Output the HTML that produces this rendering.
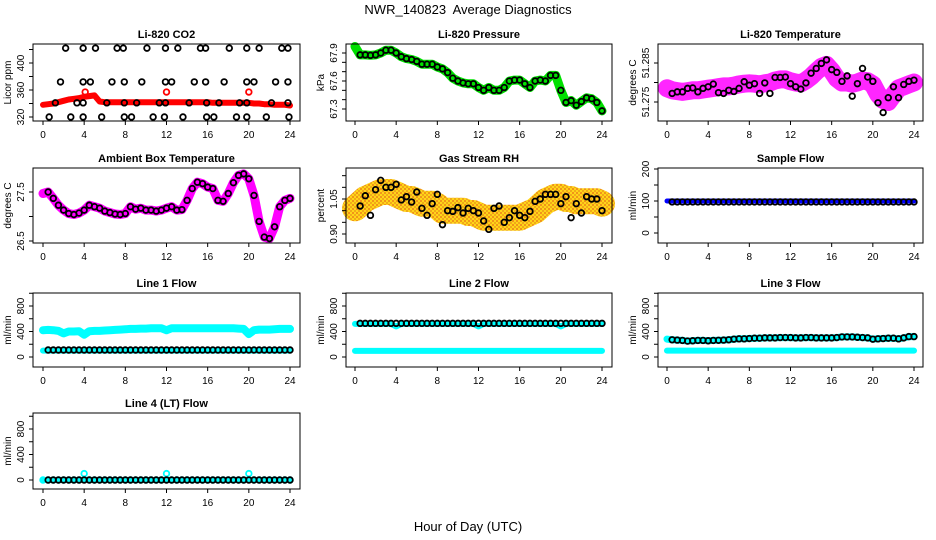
<!DOCTYPE html>
<html><head><meta charset="utf-8"><style>
html,body{margin:0;padding:0;background:#fff;}
svg{display:block;font-family:"Liberation Sans",sans-serif;}
</style></head><body>
<svg id="chart" width="936" height="540" viewBox="0 0 936 540" xmlns="http://www.w3.org/2000/svg">
<defs>
<pattern id="rhpat" width="4" height="4" patternUnits="userSpaceOnUse">
<rect width="4" height="4" fill="#ffd000"/><rect width="2" height="2" fill="#f08a00"/><rect x="2" y="2" width="2" height="2" fill="#f0a000"/>
</pattern>
</defs>
<text x="468" y="14" text-anchor="middle" font-size="13">NWR_140823&#160; Average Diagnostics</text>
<text x="468" y="531" text-anchor="middle" font-size="13">Hour of Day (UTC)</text>
</svg>
<script>
const hours = [0,0.5,1,1.5,2,2.5,3,3.5,4,4.5,5,5.5,6,6.5,7,7.5,8,8.5,9,9.5,10,10.5,11,11.5,12,12.5,13,13.5,14,14.5,15,15.5,16,16.5,17,17.5,18,18.5,19,19.5,20,20.5,21,21.5,22,22.5,23,23.5,24];
const xTicks = [0,4,8,12,16,20,24];

const co2Red = [338,339,340,342,344,346,347,348,350,351,352,343,342,342,342,342,342,342,342,342,342,342,342,342,342,342,342,342,342,342,342,342,342,341,341,341,341,341,341,341,341,340,340,339,339,338,338,338,337];
const co2BlackHours = [2.2,3.9,5.1,7.2,7.8,10.1,11.9,13.1,15.3,15.8,18.1,19.8,21.0,23.2,23.8, 1.7,3.9,4.6,6.7,7.9,9.6,11.9,12.5,14.7,15.8,17.6,19.8,20.5,22.6,23.8, 1.2,3.3,3.9,6.2,7.9,9.1,11.3,11.9,14.2,15.9,17.1,19.1,19.8,22.2,23.8, 0.6,2.7,3.9,5.7,7.9,8.6,10.7,11.8,13.6,15.9,16.6,18.8,19.8,21.7,23.9];
const co2BlackVals = [422,422,422,422,422,422,422,422,422,422,422,422,422,422,422, 372,372,372,372,372,372,372,372,372,372,372,372,372,372,372, 341,341,341,341,341,341,341,341,341,341,341,341,341,341,341, 320,320,320,320,320,320,320,320,320,320,320,320,320,320,320];
const co2RedHours = [4.1,12,20];
const co2RedVals = [357,357,357];

const pressure = [67.97,67.88,67.88,67.875,67.88,67.9,67.93,67.93,67.9,67.86,67.84,67.83,67.81,67.78,67.78,67.78,67.75,67.73,67.69,67.63,67.6,67.58,67.57,67.57,67.53,67.5,67.53,67.5,67.5,67.53,67.6,67.61,67.61,67.57,67.53,67.6,67.61,67.6,67.66,67.66,67.5,67.37,67.39,67.34,67.38,67.42,67.41,67.37,67.28];

const tempBlack = [51.2789,51.2772,51.2776,51.2776,51.2785,51.2786,51.2776,51.2785,51.2789,51.2796,51.2774,51.2772,51.278,51.2777,51.2785,51.2802,51.2793,51.2797,51.2772,51.2799,51.2772,51.2813,51.2813,51.2814,51.2797,51.2789,51.2783,51.2799,51.2824,51.2836,51.2849,51.2858,51.2833,51.2826,51.2803,51.2817,51.2765,51.2797,51.2836,51.2814,51.2803,51.2748,51.2723,51.2761,51.2789,51.2761,51.2795,51.2803,51.2806];
const tempBand = [51.2785,51.278,51.2778,51.2776,51.2778,51.278,51.278,51.2782,51.2784,51.2786,51.2788,51.279,51.279,51.2792,51.2795,51.2797,51.2798,51.2797,51.2795,51.2798,51.28,51.2805,51.2808,51.2808,51.2803,51.28,51.2798,51.2805,51.2815,51.2828,51.284,51.2845,51.283,51.281,51.28,51.28,51.2797,51.28,51.2805,51.2803,51.2795,51.277,51.2755,51.275,51.2768,51.2785,51.279,51.2795,51.28];

const ambient = [27.47,27.5,27.37,27.23,27.13,27.06,27.04,27.07,27.13,27.23,27.2,27.17,27.11,27.08,27.05,27.04,27.06,27.2,27.15,27.17,27.13,27.13,27.11,27.13,27.17,27.2,27.13,27.14,27.33,27.57,27.7,27.67,27.6,27.57,27.33,27.31,27.47,27.69,27.84,27.87,27.77,27.43,26.9,26.58,26.55,26.79,27.2,27.33,27.37];

const rhBlack = [1.0,1.02,1.064,0.98,1.09,1.13,1.10,1.10,1.113,1.046,1.06,1.037,1.08,1.01,0.98,1.03,1.07,0.94,1.0,0.997,1.013,0.99,1.01,1.0,0.99,0.956,0.92,1.01,1.02,0.95,0.97,1.0,0.98,0.97,0.997,1.04,1.05,1.07,1.07,1.07,1.03,1.06,0.97,1.03,0.99,1.06,1.05,1.05,1.0];
const rhBand = [1.01,1.03,1.05,1.06,1.07,1.08,1.08,1.08,1.07,1.06,1.05,1.05,1.04,1.03,1.03,1.03,1.02,1.0,1.0,1.0,1.0,1.0,0.99,0.99,0.98,0.97,0.97,0.97,0.97,0.97,0.97,0.97,0.97,0.98,0.99,1.0,1.02,1.04,1.05,1.06,1.06,1.05,1.05,1.04,1.04,1.04,1.04,1.04,1.03];

const sampleBlue = [100,100,100,100,100,100,100,100,100,100,100,100,100,100,100,100,100,100,100,100,100,100,100,100,100,100,100,100,100,100,100,100,100,100,100,100,100,100,100,100,100,100,100,100,100,100,100,100,100];
const sampleBlack = [97,97,97,97,97,97,97,97,97,97,97,97,97,97,97,97,97,97,97,97,97,97,97,97,97,97,97,97,97,97,97,97,97,97,97,97,97,97,97,97,97,97,97,97,97,97,97,97,97];

const line1CyanHi = [420,425,420,410,370,400,400,405,350,405,410,410,415,420,425,430,435,440,440,445,445,450,450,450,420,450,450,450,450,450,450,450,450,450,450,450,450,450,445,440,360,420,430,430,430,435,440,440,440];
const line1CyanLo = [100,100,100,100,100,100,100,100,100,100,100,100,100,100,100,100,100,100,100,100,100,100,100,100,100,100,100,100,100,100,100,100,100,100,100,100,100,100,100,100,100,100,100,100,100,100,100,100,100];
const line1Black = [110,110,110,110,110,110,110,110,110,110,110,110,110,110,110,110,110,110,110,110,110,110,110,110,110,110,110,110,110,110,110,110,110,110,110,110,110,110,110,110,110,110,110,110,110,110,110,110,110];

const line2Cyan = [520,520,520,520,520,520,520,520,480,520,520,520,520,520,520,520,520,520,520,520,520,520,520,520,480,520,520,520,520,520,520,520,520,520,520,520,520,520,520,520,480,520,520,520,520,520,520,520,520];
const line2CyanLo = [95,95,95,95,95,95,95,95,95,95,95,95,95,95,95,95,95,95,95,95,95,95,95,95,95,95,95,95,95,95,95,95,95,95,95,95,95,95,95,95,95,95,95,95,95,95,95,95,95];
const line2Black = [528,528,528,528,528,528,528,528,528,528,528,528,528,528,528,528,528,528,528,528,528,528,528,528,528,528,528,528,528,528,528,528,528,528,528,528,528,528,528,528,528,528,528,528,528,528,528,528,528];

const line3Black = [280,270,265,260,250,255,260,260,255,260,262,265,270,280,285,285,290,295,295,300,300,300,305,305,305,300,300,305,305,300,300,300,300,305,315,315,315,310,305,300,280,285,290,295,295,285,300,320,320];
const line3CyanLo = [100,100,100,100,100,100,100,100,100,100,100,100,100,100,100,100,100,100,100,100,100,100,100,100,100,100,100,100,100,100,100,100,100,100,100,100,100,100,100,100,100,100,100,100,100,100,100,100,100];

const line4Black = [0,0,0,0,0,0,0,0,0,0,0,0,0,0,0,0,0,0,0,0,0,0,0,0,0,0,0,0,0,0,0,0,0,0,0,0,0,0,0,0,0,0,0,0,0,0,0,0,0];
const line4Cyan = [0,0,0,0,0,0,0,0,100,0,0,0,0,0,0,0,0,0,0,0,0,0,0,0,100,0,0,0,0,0,0,0,0,0,0,0,0,0,0,0,100,0,0,0,0,0,0,0,0];

const NS = 'http://www.w3.org/2000/svg';
const svg = document.getElementById('chart');
function el(tag, attrs, parent, name){
  const e = document.createElementNS(NS, tag);
  for (const k in attrs) e.setAttribute(k, attrs[k]);
  
  
  (parent || svg).appendChild(e);
  return e;
}
const cols = [{l:33,r:300,x0:43},{l:346,r:612,x0:355},{l:658,r:923,x0:667}];
const rows = [{t:44,b:121},{t:168,b:243},{t:293,b:367},{t:413,b:489}];
const HX = 247/24;

function panel(c, r, key, title, ylab, ref, yticks, ylabels){
  const C = cols[c], R = rows[r];
  const g = el('g', {}, svg, key + '-panel');
  const xs = h => C.x0 + h * HX;
  const k = (ref[3] - ref[1]) / (ref[2] - ref[0]);
  const ys = v => ref[1] + (v - ref[0]) * k;
  el('text', {x:(C.l+C.r)/2, y:R.t-6, 'text-anchor':'middle','font-size':'11','font-weight':'bold'}, g, key + '-title').textContent = title;
  const plot = el('g', {}, g, key + '-plot-area');
  el('rect', {x:C.l, y:R.t, width:C.r-C.l, height:R.b-R.t, fill:'none', stroke:'#000','stroke-width':1}, g, key + '-frame');
  xTicks.forEach(t => {
    el('line', {x1:xs(t), x2:xs(t), y1:R.b, y2:R.b+4, stroke:'#000'}, g, key + '-x-tick');
    el('text', {x:xs(t), y:R.b+17, 'text-anchor':'middle','font-size':'10'}, g, key + '-x-tick-label').textContent = String(t);
  });
  yticks.forEach(t => {
    const y = ys(t);
    if (y < R.t - 1 || y > R.b + 1) return;
    el('line', {x1:C.l-4, x2:C.l, y1:y, y2:y, stroke:'#000'}, g, key + '-y-tick');
  });
  ylabels.forEach(t => {
    const y = ys(t.v);
    el('text', {x:C.l-9, y:y, 'text-anchor':'middle','font-size':'10', transform:'rotate(-90 '+(C.l-9)+' '+y+')'}, g, key + '-y-tick-label').textContent = t.s;
  });
  const ym = (R.t+R.b)/2;
  el('text', {x:C.l-22, y:ym, 'text-anchor':'middle','font-size':'10', transform:'rotate(-90 '+(C.l-22)+' '+ym+')'}, g, key + '-y-axis-title').textContent = ylab;
  return {xs, ys, g:plot};
}
function band(p, hs, vals, color, w, name, op){
  const d = hs.map((h,i) => (i ? 'L' : 'M') + p.xs(h).toFixed(1) + ' ' + p.ys(vals[i]).toFixed(1)).join(' ');
  el('path', {d, fill:'none', stroke:color, 'stroke-width':w, 'stroke-opacity':op||1, 'stroke-linejoin':'round','stroke-linecap':'round'}, p.g, name);
}
function circles(p, hs, vals, color, name, skipFirst){
  hs.forEach((h,i) => {
    if (skipFirst && i === 0) return;
    el('circle', {cx:p.xs(h), cy:p.ys(vals[i]), r:2.8, fill:'none', stroke:color, 'stroke-width':1.8}, p.g, name);
  });
}

let p = panel(0,0,'co2','Li-820 CO2','Licor ppm',[320,117,400,63],[320,340,360,380,400,420],[{v:320,s:'320'},{v:360,s:'360'},{v:400,s:'400'}]);
band(p, hours, co2Red, '#ff0000', 6, 'co2-red-band');
circles(p, co2RedHours, co2RedVals, '#ff0000', 'co2-red-point');
circles(p, co2BlackHours, co2BlackVals, '#000', 'co2-black-point');

p = panel(1,0,'pressure','Li-820 Pressure','kPa',[67.3,109,67.9,53],[67.3,67.4,67.5,67.6,67.7,67.8,67.9],[{v:67.3,s:'67.3'},{v:67.6,s:'67.6'},{v:67.9,s:'67.9'}]);
band(p, hours, pressure, '#00e000', 9, 'pressure-green-band');
circles(p, hours, pressure, '#000', 'pressure-black-point', true);

p = panel(2,0,'temperature','Li-820 Temperature','degrees C',[51.275,102,51.285,63],[51.275,51.28,51.285],[{v:51.275,s:'51.275'},{v:51.285,s:'51.285'}]);
band(p, hours, tempBand, '#ff00ff', 18, 'temperature-magenta-band', 0.85);
circles(p, hours, tempBlack, '#000', 'temperature-black-point', true);

p = panel(0,1,'ambient','Ambient Box Temperature','degrees C',[26.5,241,27.5,192],[26.5,27,27.5],[{v:26.5,s:'26.5'},{v:27.5,s:'27.5'}]);
band(p, hours, ambient, '#ff00ff', 9, 'ambient-magenta-band');
circles(p, hours, ambient, '#000', 'ambient-black-point', true);

p = panel(1,1,'rh','Gas Stream RH','percent',[0.90,234,1.05,199],[0.90,0.95,1.00,1.05,1.10,1.15],[{v:0.90,s:'0.90'},{v:1.05,s:'1.05'}]);
band(p, hours, rhBand, 'url(#rhpat)', 26, 'rh-orange-band', 0.9);
circles(p, hours, rhBlack, '#000', 'rh-black-point', true);

p = panel(2,1,'sample-flow','Sample Flow','ml/min',[0,233,200,169],[0,50,100,150,200],[{v:0,s:'0'},{v:100,s:'100'},{v:200,s:'200'}]);
band(p, hours, sampleBlue, '#0000ff', 5, 'sample-blue-band');
circles(p, hours, sampleBlack, '#000', 'sample-black-point', true);

const flowTicks = [0,200,400,600,800,1000];
const flowLabels = [{v:0,s:'0'},{v:400,s:'400'},{v:800,s:'800'}];
p = panel(0,2,'line1','Line 1 Flow','ml/min',[0,357,800,306],flowTicks,flowLabels);
band(p, hours, line1CyanHi, '#00ffff', 8, 'line1-cyan-high-band');
band(p, hours, line1CyanLo, '#00ffff', 6, 'line1-cyan-low-band');
circles(p, hours, line1Black, '#000', 'line1-black-point', true);
p = panel(1,2,'line2','Line 2 Flow','ml/min',[0,357,800,306],flowTicks,flowLabels);
band(p, hours, line2Cyan, '#00ffff', 6, 'line2-cyan-high-band');
band(p, hours, line2CyanLo, '#00ffff', 6, 'line2-cyan-low-band');
circles(p, hours, line2Black, '#000', 'line2-black-point', true);
p = panel(2,2,'line3','Line 3 Flow','ml/min',[0,357,800,306],flowTicks,flowLabels);
band(p, hours, line3Black, '#00ffff', 7, 'line3-cyan-high-band');
band(p, hours, line3CyanLo, '#00ffff', 6, 'line3-cyan-low-band');
circles(p, hours, line3Black, '#000', 'line3-black-point', true);
p = panel(0,3,'line4','Line 4 (LT) Flow','ml/min',[0,480,800,429],flowTicks,flowLabels);
band(p, hours, line4Black, '#00ffff', 5, 'line4-cyan-band');
circles(p, hours, line4Cyan, '#00ffff', 'line4-cyan-point');
circles(p, hours, line4Black, '#000', 'line4-black-point', true);
</script>
</body></html>
